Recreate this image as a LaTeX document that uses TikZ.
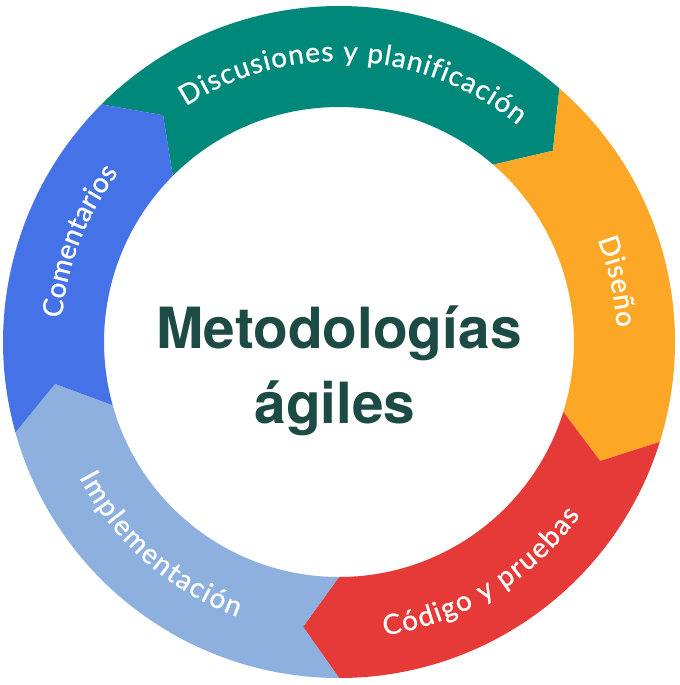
\documentclass[tikz,border=0pt]{standalone}
\usepackage{fontspec}
\setmainfont{Lato}
\newfontfamily\labfam{Lato}[FakeBold=0.8]
\newfontfamily\headfont{TeX Gyre Heros}
\usetikzlibrary{decorations.text}
\definecolor{cteal}{HTML}{00897B}
\definecolor{corange}{HTML}{FDA727}
\definecolor{cred}{HTML}{E53A37}
\definecolor{clight}{HTML}{8DB0DF}
\definecolor{cblue}{HTML}{4672E8}
\definecolor{chead}{HTML}{1C4A45}
\newcommand\ringsegment[3]{%
  \fill[#1] (#2:336bp) arc[start angle=#2, end angle=#3, radius=336bp]
    -- (#3-7.2:287bp) -- (#3:235bp)
    arc[start angle=#3, end angle=#2, radius=235bp]
    -- (#2-7.2:287bp) -- cycle;}
\newcommand\labfont{\labfam\fontsize{28}{28}\selectfont}
\tikzset{
  arclabel/.style={decorate, decoration={text along path, text={|\labfont|#1},
    text color=white, text align={fit to path}}},
  headtext/.style={font=\headfont\bfseries\fontsize{57}{57}\selectfont, text=chead, anchor=base, inner sep=0pt}
}
\begin{document}
\begin{tikzpicture}
\useasboundingbox[fill=white] (-339bp,-343bp) rectangle (341bp,342bp);
\ringsegment{cteal}{135}{49}
\ringsegment{corange}{49}{-17.3}
\ringsegment{cred}{-17.3}{-90}
\ringsegment{clight}{-90}{-164.4}
\ringsegment{cblue}{195.6}{135}
\path[arclabel={Discusiones y planificación}] (123:281bp) arc[start angle=123, end angle=50.5, radius=281bp];
\path[arclabel={Diseño}] (21.6:278bp) arc[start angle=21.6, end angle=3, radius=278bp];
\path[arclabel={Código y pruebas}] (-81.2:297bp) arc[start angle=-81.2, end angle=-35.7, radius=297bp];
\path[arclabel={Implementación}] (207.5:293bp) arc[start angle=207.5, end angle=249.7, radius=293bp];
\path[arclabel={Comentarios}] (175.1:278bp) arc[start angle=175.1, end angle=142.5, radius=278bp];
\node[headtext] (title1) at (0bp,-6bp) {Metodologías};
\node[headtext] (title2) at (-4bp,-81bp) {ágiles};
\end{tikzpicture}
\end{document}
